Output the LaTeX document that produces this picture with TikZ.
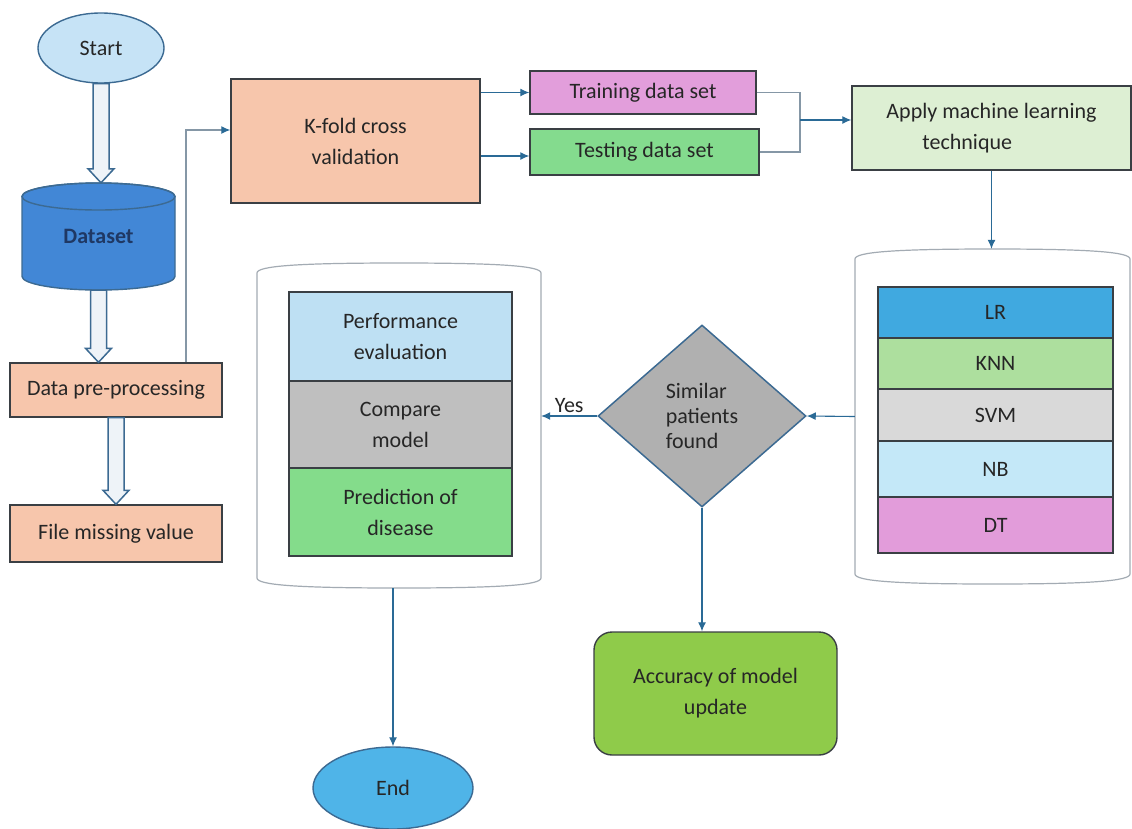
\documentclass[tikz,border=0pt]{standalone}
\usepackage{fontspec}
\setmainfont{Carlito}
\usetikzlibrary{shapes.geometric,arrows.meta,calc}
\definecolor{txt}{HTML}{262626}
\definecolor{boxline}{HTML}{3A3F44}
\definecolor{connc}{HTML}{2A6A96}
\definecolor{greyc}{HTML}{8597A6}
\definecolor{contc}{HTML}{A3ABB3}
\definecolor{startfill}{HTML}{C6E3F6}
\definecolor{blueline}{HTML}{3C6A92}
\definecolor{dsfill}{HTML}{4287D6}
\definecolor{dstext}{HTML}{1F3864}
\definecolor{salmon}{HTML}{F7C6AC}
\definecolor{trainfill}{HTML}{E29EDB}
\definecolor{testfill}{HTML}{84DB8E}
\definecolor{applyfill}{HTML}{DDEFD3}
\definecolor{lrfill}{HTML}{40A9E0}
\definecolor{knnfill}{HTML}{ADDF9E}
\definecolor{svmfill}{HTML}{D9D9D9}
\definecolor{nbfill}{HTML}{C4E8F8}
\definecolor{dtfill}{HTML}{E29CDA}
\definecolor{perffill}{HTML}{BEE0F3}
\definecolor{cmpfill}{HTML}{BFBFBF}
\definecolor{predfill}{HTML}{84DC8B}
\definecolor{diafill}{HTML}{B0B0B0}
\definecolor{accfill}{HTML}{8FCB4A}
\definecolor{endfill}{HTML}{4FB4E8}
\definecolor{holfill}{HTML}{EEF3F8}
\newcommand\harr[2]{\draw[harrow] let \p1=(#1), \p2=(#2) in (\x1-8pt,\y1) -- (\x1-8pt,\y2+14pt) -- (\x1-13pt,\y2+14pt) -- (\x1,\y2) -- (\x1+13pt,\y2+14pt) -- (\x1+8pt,\y2+14pt) -- (\x1+8pt,\y1) -- cycle;}
\newcommand\canshape[4]{\draw[cont] (#1,#4) -- (#1,#3) .. controls (#1,#3-7) and (#1+40,#3-10) .. ({(#1+#2)/2},#3-10) .. controls (#2-40,#3-10) and (#2,#3-7) .. (#2,#3) -- (#2,#4) .. controls (#2,#4+7) and (#2-40,#4+10) .. ({(#1+#2)/2},#4+10) .. controls (#1+40,#4+10) and (#1,#4+7) .. (#1,#4) -- cycle;}
\begin{document}
\begin{tikzpicture}[x=1pt,y=-1pt,
  font=\fontsize{22}{31}\selectfont,
  box/.style={draw=boxline, line width=1.4pt, text=txt, align=center, inner sep=2pt},
  row/.style={box, line width=1.6pt},
  conn/.style={draw=connc, line width=1.1pt},
  gconn/.style={draw=greyc, line width=1.1pt},
  arr/.style={conn, -{Latex[length=9pt,width=8pt]}},
  garr/.style={gconn, -{Latex[length=9pt,width=8pt,fill=connc,color=connc]}},
  harrow/.style={draw=blueline, line width=1.5pt, fill=holfill},
  cont/.style={draw=contc, line width=1.2pt, fill=white}]
\useasboundingbox (0,0) rectangle (1132,828);

% Start
\node[ellipse, draw=blueline, line width=1.4pt, fill=startfill, text=txt, minimum width=126pt, minimum height=70pt] (start) at (101,48) {Start};

% Dataset cylinder
\filldraw[fill=dsfill, draw=blueline, line width=1.4pt] (22,196.5) -- (22,276.5) arc[start angle=180,end angle=360,x radius=76.5pt,y radius=13.5pt] -- (175,196.5) arc[start angle=0,end angle=180,x radius=76.5pt,y radius=13.5pt] -- cycle;
\draw[blueline, line width=1.4pt] (98.5,196.5) ellipse[x radius=76.5pt, y radius=13.5pt];
\node[minimum width=153pt, minimum height=107pt, inner sep=0pt, text=dstext, font=\fontsize{22}{31}\selectfont\bfseries] (ds) at (98.5,236.5) {\raisebox{-6pt}{Dataset}};

% left column boxes
\node[box, fill=salmon, minimum width=212pt, minimum height=54pt] (pre) at (116,390) {Data pre-processing};
\node[box, fill=salmon, minimum width=212pt, minimum height=57pt] (fmv) at (116,533.5) {File missing value};

\harr{start.south}{ds.north}
\harr{ds.south}{pre.north}
\harr{pre.south}{fmv.north}

% K-fold and data sets
\node[box, fill=salmon, minimum width=249pt, minimum height=124pt] (kfold) at (355.5,141) {K-fold cross\\validation};
\node[box, fill=trainfill, minimum width=226pt, minimum height=43pt] (train) at (643,92.5) {Training data set};
\node[box, fill=testfill, minimum width=229pt, minimum height=46pt] (test) at (644.5,152) {Testing data set};
\node[box, fill=applyfill, minimum width=279pt, minimum height=84pt, align=left] (apply) at (991.5,128) {Apply machine learning\\\hspace*{36pt}technique};

\coordinate (kin) at (186,130);
\draw[garr] (pre.north -| kin) |- (kfold.west |- kin);
\draw[arr] (kfold.east |- train.west) -- (train.west);
\draw[arr] ([yshift=-4pt]kfold.east |- test.west) -- ([yshift=-4pt]test.west);
\coordinate (jn) at (800,120);
\draw[gconn] (train.east) -| (jn);
\draw[gconn] (test.east) -| (jn);
\draw[arr] (jn) -- (apply.west |- jn);

% ML container
\canshape{855}{1130}{259}{574}
\node[minimum width=275pt, minimum height=335pt, inner sep=0pt] (mlc) at (992.5,416.5) {};
\node[row, fill=lrfill, minimum width=235pt, minimum height=51pt] (lr) at (995.5,312.5) {LR};
\node[row, fill=knnfill, minimum width=235pt, minimum height=51pt] (knn) at (995.5,363.5) {KNN};
\node[row, fill=svmfill, minimum width=235pt, minimum height=52pt] (svm) at (995.5,415) {SVM};
\node[row, fill=nbfill, minimum width=235pt, minimum height=56pt] (nb) at (995.5,469) {NB};
\node[row, fill=dtfill, minimum width=235pt, minimum height=56pt] (dt) at (995.5,525) {DT};
\draw[arr] (apply.south) -- (apply.south |- mlc.north);

% Diamond
\node[diamond, draw=blueline, line width=1.5pt, fill=diafill, text=txt, align=left, minimum width=208pt, minimum height=182pt, aspect=1.14, inner sep=0pt, font=\fontsize{22}{25}\selectfont] (dia) at (702,416) {Similar\\patients\\found};
\draw[arr] (mlc.west) -- (dia.east);

% Left container
\canshape{257}{541}{273}{578}
\node[minimum width=284pt, minimum height=325pt, inner sep=0pt] (lc) at (399,425.5) {};
\node[row, fill=perffill, minimum width=223pt, minimum height=89pt] (perf) at (400.5,336.5) {Performance\\evaluation};
\node[row, fill=cmpfill, minimum width=223pt, minimum height=87pt] (cmp) at (400.5,424.5) {Compare\\model};
\node[row, fill=predfill, minimum width=223pt, minimum height=88pt] (pred) at (400.5,512) {Prediction of\\disease};
\draw[arr] (dia.west) -- (dia.west -| lc.east) node[midway, above, text=txt, inner sep=3pt] {Yes};

% End and accuracy
\node[ellipse, draw=blueline, line width=1.4pt, fill=endfill, text=txt, minimum width=160pt, minimum height=82pt] (end) at (393,788) {End};
\draw[arr] (end.north |- lc.south) -- (end.north);
\node[box, rounded corners=18pt, fill=accfill, minimum width=243pt, minimum height=123pt] (acc) at (715.5,693.5) {Accuracy of model\\update};
\draw[arr] (dia.south) -- (dia.south |- acc.north);
\end{tikzpicture}
\end{document}
